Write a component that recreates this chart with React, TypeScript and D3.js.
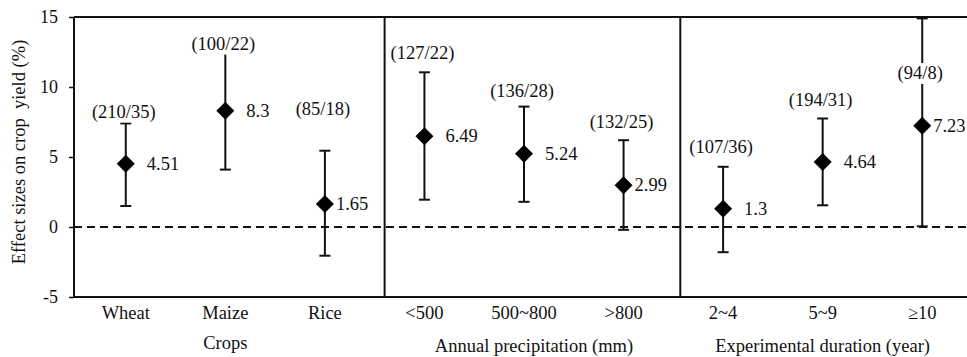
import { useEffect, useRef } from 'react'
import * as d3 from 'd3'

const CATEGORIES = ['Wheat', 'Maize', 'Rice', '<500', '500~800', '>800', '2~4', '5~9', '≥10']
const MEANS = [4.51, 8.3, 1.65, 6.49, 5.24, 2.99, 1.3, 4.64, 7.23]
const UPPER = [7.4, 12.5, 5.45, 11.05, 8.6, 6.2, 4.3, 7.75, 14.9]
const LOWER = [1.5, 4.1, -2.05, 1.95, 1.8, -0.2, -1.8, 1.55, 0.05]
const SAMPLE_LABELS = ['(210/35)', '(100/22)', '(85/18)', '(127/22)', '(136/28)', '(132/25)', '(107/36)', '(194/31)', '(94/8)']
// where the (n/studies) labels sit, in effect-size units
const SAMPLE_LABEL_AT = [8.25, 13.1, 8.45, 12.45, 9.75, 7.5, 5.75, 9.1, 11.0]
const GROUP_TITLES = ['Crops', 'Annual precipitation (mm)', 'Experimental duration (year)']
const Y_TICKS = [-5, 0, 5, 10, 15]
const Y_TITLE = 'Effect sizes on crop  yield (%)'

// last point of each group has its value label tucked next to the marker
const TIGHT_VALUE_LABEL = new Set(['Rice', '>800', '≥10'])

export default function App() {
  const svgRef = useRef<SVGSVGElement>(null)

  useEffect(() => {
    const W = 967
    const H = 357
    const font = '"Liberation Serif", "Times New Roman", serif'
    const fs = 18.5

    const x = d3.scaleLinear().domain([-0.52, 8.52]).range([74, 974])
    const y = d3.scaleLinear().domain([-5, 15]).range([297, 17])

    const svg = d3.select(svgRef.current)
    svg.selectAll('*').remove()
    svg.attr('width', W).attr('height', H)

    svg.append('rect').attr('width', W).attr('height', H).attr('fill', '#fff')

    const [x0, x1] = x.range()
    const [yb, yt] = y.range()

    // zero line
    svg.append('line')
      .attr('x1', x0).attr('x2', x1)
      .attr('y1', y(0)).attr('y2', y(0))
      .attr('stroke', '#111').attr('stroke-width', 2)
      .attr('stroke-dasharray', '8,5')

    // frame
    const frame = svg.append('g').attr('stroke', '#111').attr('stroke-width', 2)
    frame.append('line').attr('x1', x0).attr('x2', x1).attr('y1', yt).attr('y2', yt)
    frame.append('line').attr('x1', x0).attr('x2', x1).attr('y1', yb).attr('y2', yb)
    frame.append('line').attr('x1', x0).attr('x2', x0).attr('y1', yt).attr('y2', yb)
    ;[2.6, 5.57].forEach((s) => {
      frame.append('line').attr('x1', x(s)).attr('x2', x(s)).attr('y1', yt).attr('y2', yb)
    })

    // y axis
    svg.append('g')
      .attr('transform', `translate(${x0},0)`)
      .call(d3.axisLeft(y).tickValues(Y_TICKS).tickSize(5).tickPadding(11).tickFormat((d) => String(d)))
      .call((ax) => ax.select('.domain').remove())
      .call((ax) => ax.attr('font-family', null).attr('font-size', null))
      .call((ax) => ax.selectAll('line').attr('stroke', '#111').attr('stroke-width', 1.5))
      .call((ax) => ax.selectAll('text')
        .attr('fill', '#111')
        .attr('font-family', font)
        .attr('font-size', 18))

    svg.append('text')
      .attr('transform', `translate(25,${y(5) - 5}) rotate(-90)`)
      .attr('text-anchor', 'middle')
      .attr('font-family', font)
      .attr('font-size', fs)
      .attr('fill', '#111')
      .style('white-space', 'pre')
      .text(Y_TITLE)

    // category labels
    svg.append('g')
      .selectAll('text')
      .data(CATEGORIES)
      .join('text')
      .attr('x', (_, i) => x(i))
      .attr('y', 319)
      .attr('text-anchor', 'middle')
      .attr('font-family', font)
      .attr('font-size', fs)
      .attr('fill', '#111')
      .text((d) => d)

    // group titles
    svg.append('g')
      .selectAll('text')
      .data(GROUP_TITLES)
      .join('text')
      .attr('x', (_, i) => x(i * 3 + 1) + (i === 1 ? 10 : 0))
      .attr('y', (_, i) => (i === 0 ? 349 : 352))
      .attr('text-anchor', 'middle')
      .attr('font-family', font)
      .attr('font-size', fs)
      .attr('fill', '#111')
      .text((d) => d)

    const idx = d3.range(CATEGORIES.length)
    const capW = 5.5

    // error bars
    const bars = svg.append('g').attr('stroke', '#111').attr('stroke-width', 2)
    bars.selectAll('line.stem')
      .data(idx)
      .join('line')
      .attr('class', 'stem')
      .attr('x1', (i) => x(i)).attr('x2', (i) => x(i))
      .attr('y1', (i) => y(UPPER[i])).attr('y2', (i) => y(LOWER[i]))
    bars.selectAll('line.capU')
      .data(idx)
      .join('line')
      .attr('class', 'capU')
      .attr('x1', (i) => x(i) - capW).attr('x2', (i) => x(i) + capW)
      .attr('y1', (i) => y(UPPER[i])).attr('y2', (i) => y(UPPER[i]))
    bars.selectAll('line.capL')
      .data(idx)
      .join('line')
      .attr('class', 'capL')
      .attr('x1', (i) => x(i) - capW).attr('x2', (i) => x(i) + capW)
      .attr('y1', (i) => y(LOWER[i])).attr('y2', (i) => y(LOWER[i]))

    // sample size labels, with a white patch behind so the bar is cut
    const sl = svg.append('g')
    idx.forEach((i) => {
      const g = sl.append('g')
      const t = g.append('text')
        .attr('x', x(i) - 2)
        .attr('y', y(SAMPLE_LABEL_AT[i]) + 6)
        .attr('text-anchor', 'middle')
        .attr('font-family', font)
        .attr('font-size', fs)
        .attr('fill', '#111')
        .text(SAMPLE_LABELS[i])
      const bb = (t.node() as SVGTextElement).getBBox()
      g.insert('rect', 'text')
        .attr('x', bb.x - 2).attr('y', bb.y)
        .attr('width', bb.width + 4).attr('height', bb.height)
        .attr('fill', '#fff')
    })

    // diamonds
    const diamond = d3.symbol().type(d3.symbolSquare).size(162)
    svg.append('g')
      .selectAll('path')
      .data(idx)
      .join('path')
      .attr('d', diamond)
      .attr('transform', (i) => `translate(${x(i)},${y(MEANS[i])}) rotate(45)`)
      .attr('fill', '#000')

    // mean labels
    svg.append('g')
      .selectAll('text')
      .data(idx)
      .join('text')
      .attr('x', (i) => x(i) + (TIGHT_VALUE_LABEL.has(CATEGORIES[i]) ? 11 : 21))
      .attr('y', (i) => y(MEANS[i]) + 6)
      .attr('font-family', font)
      .attr('font-size', fs)
      .attr('fill', '#111')
      .text((i) => `${MEANS[i]}`)

    return () => {
      svg.selectAll('*').remove()
    }
  }, [])

  return (
    <div style={{ position: 'absolute', left: 0, top: 0 }}>
      <svg ref={svgRef} style={{ display: 'block' }} />
    </div>
  )
}
